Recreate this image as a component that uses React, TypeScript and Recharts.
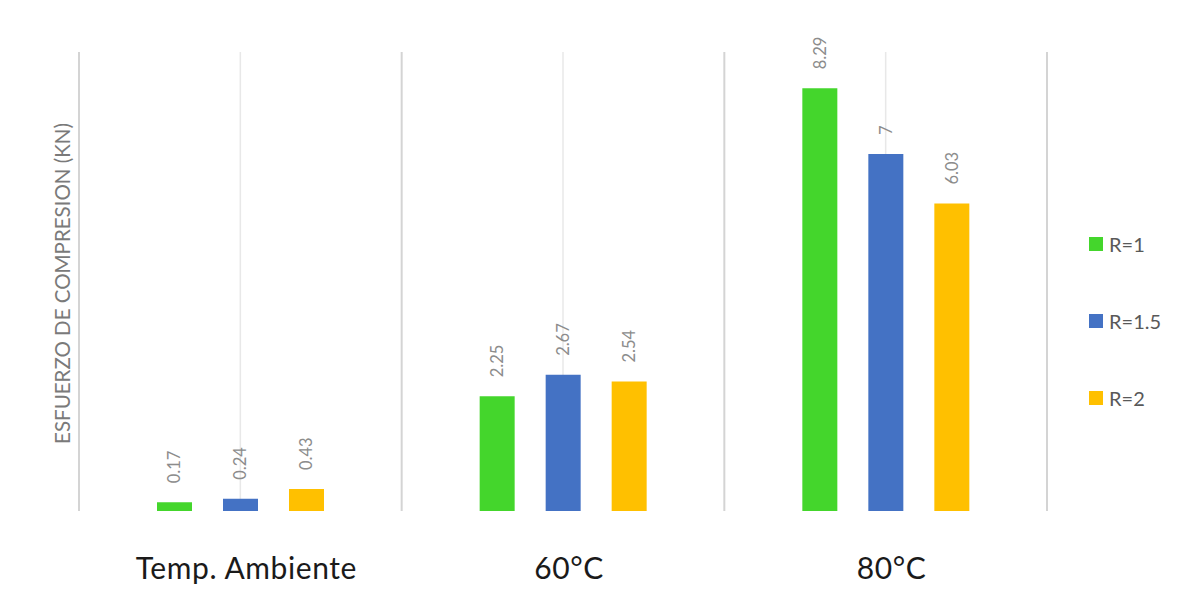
import { BarChart, Bar, XAxis, YAxis, CartesianGrid, LabelList, ReferenceLine } from 'recharts'

const categories = ['Temp. Ambiente', '60°C', '80°C']
const r1 = [0.17, 2.25, 8.29]
const r15 = [0.24, 2.67, 7]
const r2 = [0.43, 2.54, 6.03]

const seriesNames = ['R=1', 'R=1.5', 'R=2']
const seriesColors = ['#44d62c', '#4472c4', '#ffc000']

const data = categories.map((cat, i) => ({ cat, r1: r1[i], r15: r15[i], r2: r2[i] }))

const FONT = 'Lato, "Open Sans", sans-serif'

function ValueLabel(props: any) {
  const { x, y, width, value } = props
  const cx = x + width / 2
  const ty = y - 19
  return (
    <text
      x={cx}
      y={ty}
      transform={`rotate(-90, ${cx}, ${ty})`}
      textAnchor="start"
      dominantBaseline="central"
      fontSize={16.5}
      fontFamily={FONT}
      fill="#8c8c8c"
    >
      {value}
    </text>
  )
}

function CatTick(props: any) {
  const { x, y, payload } = props
  return (
    <text x={x + 6} y={y + 60} textAnchor="middle" fontSize={30} letterSpacing={0.6} fontFamily={FONT} fill="#1a1a1a">
      {payload.value}
    </text>
  )
}

function AxisTitle(props: any) {
  const { viewBox } = props
  const x = viewBox.x + viewBox.width - 17
  const y = viewBox.y + viewBox.height / 2 + 2
  return (
    <text
      x={x}
      y={y}
      transform={`rotate(-90, ${x}, ${y})`}
      textAnchor="middle"
      dominantBaseline="central"
      fontSize={20.5}
      fontFamily={FONT}
      fill="#7a7a7a"
    >
      ESFUERZO DE COMPRESION (KN)
    </text>
  )
}

// legend is laid out by hand at the right of the plot, so it doesn't eat plot space
function LegendBox() {
  return (
    <div style={{ position: 'absolute', left: 1089, top: 232, fontFamily: FONT }}>
      {seriesNames.map((name, i) => (
        <div key={name} style={{ display: 'flex', alignItems: 'center', height: 24, marginBottom: i < 2 ? 53 : 0 }}>
          <span style={{ width: 14, height: 14, background: seriesColors[i], display: 'inline-block', marginRight: 6 }} />
          <span style={{ fontSize: 20, color: '#595959' }}>{name}</span>
        </div>
      ))}
    </div>
  )
}

export default function App() {
  return (
    <div style={{ position: 'absolute', left: 0, top: 0, width: 1191, height: 596, background: '#fff' }}>
      <BarChart
        width={1191}
        height={596}
        data={data}
        margin={{ top: 52, right: 144, left: 0, bottom: 0 }}
        barSize={35}
        barGap={31}
      >
        <CartesianGrid horizontal={false} stroke="#e8e8e8" strokeWidth={1.5} />
        {categories.map(c => (
          <ReferenceLine key={c} x={c} position="start" stroke="#d4d4d4" strokeWidth={2} />
        ))}
        <ReferenceLine x={categories[categories.length - 1]} position="end" stroke="#d4d4d4" strokeWidth={2} />
        <XAxis dataKey="cat" axisLine={false} tickLine={false} height={85} tick={<CatTick />} interval={0} />
        <YAxis domain={[0, 9]} width={79} axisLine={false} tickLine={false} tick={false} label={<AxisTitle />} />
        <Bar dataKey="r1" name={seriesNames[0]} fill={seriesColors[0]} isAnimationActive={false}>
          <LabelList dataKey="r1" content={<ValueLabel />} />
        </Bar>
        <Bar dataKey="r15" name={seriesNames[1]} fill={seriesColors[1]} isAnimationActive={false}>
          <LabelList dataKey="r15" content={<ValueLabel />} />
        </Bar>
        <Bar dataKey="r2" name={seriesNames[2]} fill={seriesColors[2]} isAnimationActive={false}>
          <LabelList dataKey="r2" content={<ValueLabel />} />
        </Bar>
      </BarChart>
      <LegendBox />
    </div>
  )
}
